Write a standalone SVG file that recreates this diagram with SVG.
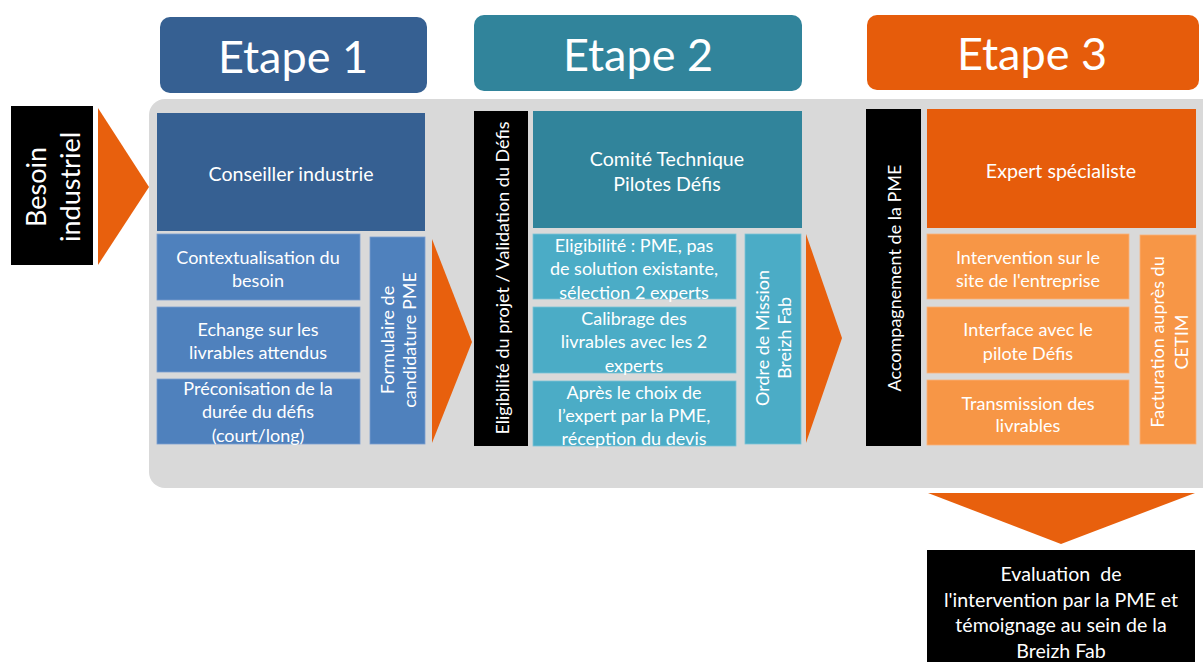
<svg xmlns="http://www.w3.org/2000/svg" width="1203" height="662" viewBox="0 0 1203 662">
<style>
text{font-family:Lato,"Open Sans","Liberation Sans",sans-serif;fill:#fff;text-anchor:middle;dominant-baseline:central}
.h{font-size:45px}
.m{font-size:19.6px}
.s{font-size:18px}
.b{font-size:27px}
.arr{fill:#e8600d}
.dk1{fill:#366092}
.dk2{fill:#31849b}
.dk3{fill:#e65c0b}
.l1{fill:#4f81bd;stroke:#7a9fd0;stroke-width:0.8}
.l2{fill:#4bacc6;stroke:#7cc4d6;stroke-width:0.8}
.l3{fill:#f79646;stroke:#f9b27a;stroke-width:0.8}
.blk{fill:#000}
.pre{white-space:pre}
</style>
<rect width="1203" height="662" fill="#fff"/>
<rect x="149" y="99" width="1070" height="389" rx="16" fill="#d9d9d9"/>

<g id="etape1"><rect x="160" y="17" width="267" height="76" rx="10" class="dk1"/><text x="293" y="56" class="h">Etape 1</text></g>
<g id="etape2"><rect x="474" y="15" width="328" height="76" rx="10" class="dk2"/><text x="638" y="54" class="h">Etape 2</text></g>
<g id="etape3"><rect x="867" y="15" width="332" height="75" rx="10" class="dk3"/><text x="1032" y="53" class="h">Etape 3</text></g>

<g id="connectors">
<polygon class="arr" points="98,108 149,187 98,265"/>
<polygon class="arr" points="432,239 472,342 432,443"/>
<polygon class="arr" points="806,234 842,338 806,443"/>
<polygon class="arr" points="928,493 1195,493 1061,544"/>
</g>

<g id="besoin"><rect x="11" y="106" width="82" height="159" class="blk"/>
<text transform="translate(52,187) rotate(-90)" class="b"><tspan x="0" y="-17">Besoin</tspan><tspan x="0" y="17">industriel</tspan></text></g>

<g id="conseiller"><rect x="157" y="113" width="268" height="118" class="dk1"/><text x="291" y="173" class="m">Conseiller industrie</text></g>
<g id="contextualisation"><rect x="157" y="234" width="203" height="66" class="l1"/><text class="s"><tspan x="258" y="257">Contextualisation du</tspan><tspan x="258" y="280">besoin</tspan></text></g>
<g id="echange"><rect x="157" y="307" width="203" height="65" class="l1"/><text class="s"><tspan x="258" y="329">Echange sur les</tspan><tspan x="258" y="352">livrables attendus</tspan></text></g>
<g id="preconisation"><rect x="157" y="379" width="203" height="65" class="l1"/><text class="s"><tspan x="258" y="388">Préconisation de la</tspan><tspan x="258" y="411">durée du défis</tspan><tspan x="258" y="435">(court/long)</tspan></text></g>
<g id="formulaire"><rect x="370" y="237" width="55" height="207" class="l1"/>
<text transform="translate(398,340) rotate(-90)" class="s"><tspan x="0" y="-11">Formulaire de</tspan><tspan x="0" y="11">candidature PME</tspan></text></g>

<g id="eligibilite-projet"><rect x="474" y="111" width="54" height="335" class="blk"/>
<text transform="translate(502,278) rotate(-90)" class="s">Eligibilité du projet / Validation du Défis</text></g>
<g id="comite"><rect x="533" y="111" width="269" height="117" class="dk2"/><text class="m"><tspan x="667" y="158">Comité Technique</tspan><tspan x="667" y="183">Pilotes Défis</tspan></text></g>
<g id="eligibilite"><rect x="533" y="234" width="203" height="65" class="l2"/><text class="s"><tspan x="634" y="245">Eligibilité : PME, pas</tspan><tspan x="634" y="268">de solution existante,</tspan><tspan x="634" y="292">sélection 2 experts</tspan></text></g>
<g id="calibrage"><rect x="533" y="307" width="203" height="66" class="l2"/><text class="s"><tspan x="634" y="318">Calibrage des</tspan><tspan x="634" y="341">livrables avec les 2</tspan><tspan x="634" y="365">experts</tspan></text></g>
<g id="apres"><rect x="533" y="381" width="203" height="65" class="l2"/><text class="s"><tspan x="634" y="392">Après le choix de</tspan><tspan x="634" y="415">l’expert par la PME,</tspan><tspan x="634" y="438">réception du devis</tspan></text></g>
<g id="ordre"><rect x="745" y="234" width="56" height="210" class="l2"/>
<text transform="translate(773,338) rotate(-90)" class="s"><tspan x="0" y="-11">Ordre de Mission</tspan><tspan x="0" y="11">Breizh Fab</tspan></text></g>

<g id="accompagnement"><rect x="866" y="109" width="55" height="337" class="blk"/>
<text transform="translate(894,278) rotate(-90)" class="s">Accompagnement de la PME</text></g>
<g id="expert"><rect x="927" y="109" width="269" height="119" class="dk3"/><text x="1061" y="170" class="m">Expert spécialiste</text></g>
<g id="intervention"><rect x="927" y="234" width="202" height="65" class="l3"/><text class="s"><tspan x="1028" y="257">Intervention sur le</tspan><tspan x="1028" y="280">site de l'entreprise</tspan></text></g>
<g id="interface"><rect x="927" y="307" width="202" height="66" class="l3"/><text class="s"><tspan x="1028" y="329">Interface avec le</tspan><tspan x="1028" y="353">pilote Défis</tspan></text></g>
<g id="transmission"><rect x="927" y="380" width="202" height="65" class="l3"/><text class="s"><tspan x="1028" y="403">Transmission des</tspan><tspan x="1028" y="425">livrables</tspan></text></g>
<g id="facturation"><rect x="1140" y="235" width="56" height="209" class="l3"/>
<text transform="translate(1169,342) rotate(-90)" class="s"><tspan x="0" y="-12">Facturation auprès du</tspan><tspan x="0" y="12">CETIM</tspan></text></g>

<g id="evaluation"><rect x="927" y="550" width="268" height="112" class="blk"/>
<text class="m pre"><tspan x="1061" y="573">Evaluation  de</tspan><tspan x="1061" y="599">l'intervention par la PME et</tspan><tspan x="1061" y="624">témoignage au sein de la</tspan><tspan x="1061" y="650">Breizh Fab</tspan></text></g>
</svg>
